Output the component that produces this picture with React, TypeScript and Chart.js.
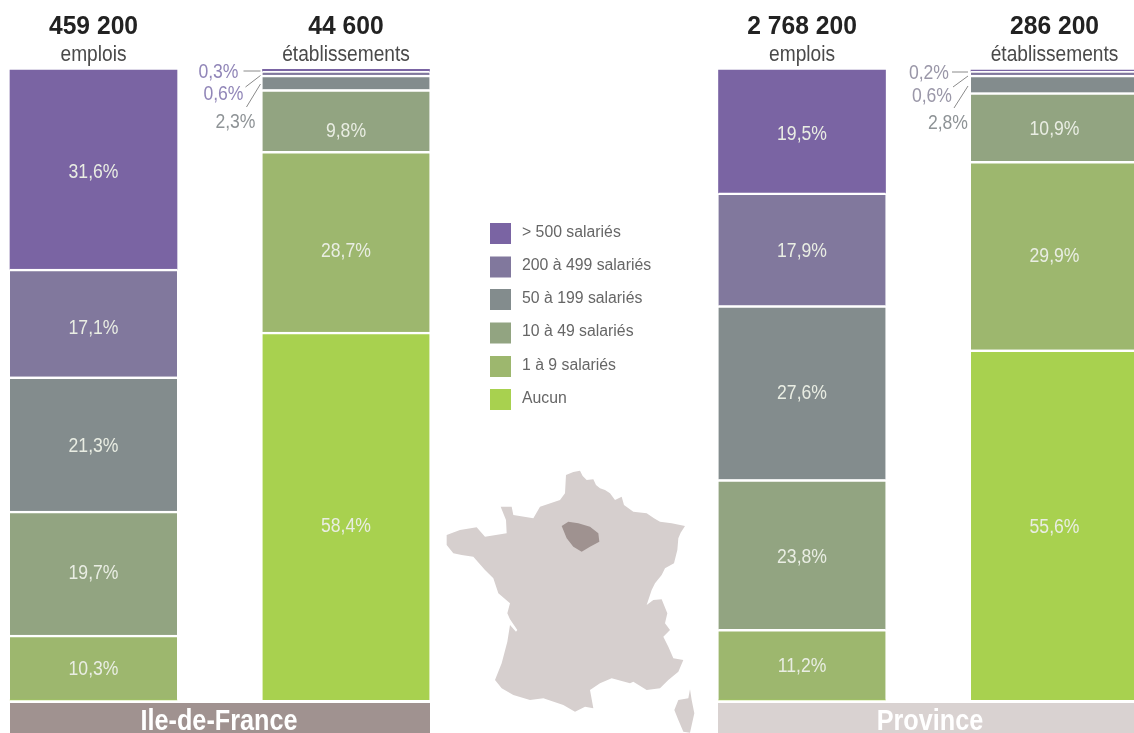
import React, { useEffect, useRef } from "react";
import { Chart, registerables } from "chart.js";

Chart.register(...registerables);

const columnPositions = [0, 1, 2.806, 3.806];
const columnTotals = ["459 200", "44 600", "2 768 200", "286 200"];
const columnUnits = ["emplois", "établissements", "emplois", "établissements"];
const regions = ["Ile-de-France", "Province"];

const seriesLabels = ["Aucun", "1 à 9 salariés", "10 à 49 salariés", "50 à 199 salariés", "200 à 499 salariés", "> 500 salariés"];
const seriesColors = ["#A8D14F", "#9DB76E", "#92A481", "#838C8D", "#81789D", "#7A64A3"];

const aucun = [0, 58.4, 0, 55.6];
const unANeuf = [10.3, 28.7, 11.2, 29.9];
const dixA49 = [19.7, 9.8, 23.8, 10.9];
const cinquanteA199 = [21.3, 2.3, 27.6, 2.8];
const deuxCentsA499 = [17.1, 0.6, 17.9, 0.6];
const plusDe500 = [31.6, 0.3, 19.5, 0.2];
const seriesValues = [aucun, unANeuf, dixA49, cinquanteA199, deuxCentsA499, plusDe500];

// the reference's labels are not exactly centred in their segments
const labelNudges = [
  [0, 9, 0, 2],
  [1, 9, 1, 0],
  [-1, 10, 2, 1],
  [2, 0, 0, 0],
  [5, 0, 1, 0],
  [2, 0, 2, 0],
];

const fmt = (v: number) => v.toFixed(1).replace(".", ",") + "%";
const SANS = '"Liberation Sans", sans-serif';

// no condensed face is installed: squeeze through fillText's maxWidth
const squeezed = (ctx: any, text: string, x: number, y: number, factor: number) => {
  ctx.fillText(text, x, y, ctx.measureText(text).width * factor);
};

// placement of the outside labels for the thin segments, relative to each thin column's left edge
const sideLayout: Record<number, { right: number; y: number; color: string; line: number[] }[]> = {
  1: [
    { right: -24, y: 72, color: "#9186B8", line: [-19, 71, -2, 71] },
    { right: -19, y: 94, color: "#9186B8", line: [-17, 87, -2, 75.5] },
    { right: -7, y: 122, color: "#8E9396", line: [-16, 107, -2, 84] },
  ],
  3: [
    { right: -22, y: 73, color: "#9A97A8", line: [-19, 72, -3, 72] },
    { right: -19, y: 96, color: "#9A97A8", line: [-18, 87, -3, 76] },
    { right: -3, y: 123, color: "#8E9396", line: [-17, 108, -3, 86] },
  ],
};

const overlayPlugin = {
  id: "overlay",
  afterDraw(chart: any) {
    const { ctx } = chart;
    const metas = seriesValues.map((_, i) => chart.getDatasetMeta(i));
    ctx.save();
    ctx.textBaseline = "middle";

    // in-bar labels
    ctx.textAlign = "center";
    ctx.font = `20px ${SANS}`;
    ctx.fillStyle = "#E9EDE3";
    seriesValues.forEach((vals, s) => {
      vals.forEach((v, c) => {
        if (v < 5) return;
        const el = metas[s].data[c];
        squeezed(ctx, fmt(v), el.x, (el.y + el.base) / 2 + 1 + labelNudges[s][c], 0.88);
      });
    });

    // totals and units over each column
    columnTotals.forEach((t, c) => {
      const el = metas[0].data[c];
      ctx.fillStyle = "#222222";
      ctx.font = `bold 26.5px ${SANS}`;
      squeezed(ctx, t, el.x, 27, 0.93);
      ctx.fillStyle = "#4A4A4A";
      ctx.font = `22px ${SANS}`;
      squeezed(ctx, columnUnits[c], el.x, 55, 0.87);
    });

    // outside labels with leader lines
    Object.keys(sideLayout).forEach((key) => {
      const c = Number(key);
      const el = metas[0].data[c];
      const left = el.x - el.width / 2;
      const thin = [plusDe500[c], deuxCentsA499[c], cinquanteA199[c]];
      sideLayout[c].forEach((row, i) => {
        ctx.fillStyle = row.color;
        ctx.font = `20px ${SANS}`;
        ctx.textAlign = "right";
        squeezed(ctx, fmt(thin[i]), left + row.right, row.y, 0.88);
        ctx.strokeStyle = "#8A8A8A";
        ctx.lineWidth = 1;
        ctx.beginPath();
        ctx.moveTo(left + row.line[0], row.line[1]);
        ctx.lineTo(left + row.line[2], row.line[3]);
        ctx.stroke();
      });
    });

    // legend, top row is the last series
    ctx.textAlign = "left";
    ctx.font = `15.8px ${SANS}`;
    const swatchY = [233.5, 267, 299.5, 333, 366.5, 399.5];
    const textY = [233, 266, 299, 332, 366, 399];
    [...seriesLabels].reverse().forEach((label, i) => {
      ctx.fillStyle = [...seriesColors].reverse()[i];
      ctx.fillRect(490, swatchY[i] - 10.5, 21, 21);
      ctx.fillStyle = "#666666";
      ctx.fillText(label, 522, textY[i]);
    });

    // region banners
    const banners = [
      { from: 10, to: 430, color: "#A09290" },
      { from: 718, to: 1134, color: "#D9D2D1" },
    ];
    banners.forEach((b, i) => {
      ctx.fillStyle = b.color;
      ctx.fillRect(b.from, 703, b.to - b.from, 30);
      ctx.fillStyle = "#FFFFFF";
      ctx.textAlign = "center";
      ctx.font = `bold 29px ${SANS}`;
      squeezed(ctx, regions[i], (b.from + b.to) / 2 + (i === 1 ? 4 : -1), 722, 0.87);
    });
    ctx.restore();
  },
};

const FRANCE =
  "M408,75 L430,66 L450,62 L458,78 L470,90 L490,88 L498,105 L510,115 L525,120 L540,130 L555,150 L575,140 L582,165 L610,185 L650,190 L672,205 L690,215 L725,220 L765,228 L752,248 L745,265 L742,300 L732,340 L705,355 L695,375 L675,400 L665,420 L650,465 L670,450 L695,448 L712,490 L705,520 L720,540 L700,560 L715,590 L730,625 L760,630 L745,665 L715,690 L690,715 L650,720 L610,695 L600,700 L545,685 L510,700 L480,720 L490,775 L465,770 L435,785 L400,765 L340,745 L300,750 L250,735 L215,715 L195,690 L215,640 L232,575 L240,525 L258,545 L262,540 L240,508 L232,490 L240,460 L205,430 L190,385 L165,360 L130,320 L95,315 L70,310 L50,285 L50,255 L90,240 L140,232 L165,260 L230,250 L228,210 L212,170 L245,170 L250,195 L310,205 L330,170 L390,150 L405,130 Z";
const CORSICA = "M780,718 L785,750 L793,790 L780,848 L760,845 L745,810 L733,780 L745,750 L775,745 Z";
const IDF = "M395,228 L415,215 L445,220 L480,230 L505,250 L508,275 L480,290 L455,305 L430,290 L410,265 Z";

export default function App() {
  const ref = useRef<HTMLCanvasElement>(null);
  useEffect(() => {
    const chart = new Chart(ref.current as HTMLCanvasElement, {
      type: "bar",
      data: {
        datasets: seriesValues.map((vals, i) => ({
          label: seriesLabels[i],
          data: vals.map((v, c) => ({ x: columnPositions[c], y: v })),
          backgroundColor: seriesColors[i],
          borderColor: "#FFFFFF",
          borderWidth: { top: i === seriesValues.length - 1 ? 0 : 2.5, right: 0, bottom: 0, left: 0 },
          borderSkipped: false,
          barThickness: 167,
          clip: false,
        })),
      } as any,
      plugins: [overlayPlugin],
      options: {
        animation: false,
        responsive: false,
        events: [],
        layout: { padding: { top: 70, bottom: 33, left: 0, right: 0 } },
        plugins: { legend: { display: false }, tooltip: { enabled: false } },
        scales: {
          x: { type: "linear", offset: false, stacked: true, display: false, min: -0.3703, max: 4.1208 },
          y: { stacked: true, display: false, min: 0, max: 100 },
        },
      },
    } as any);
    return () => chart.destroy();
  }, []);
  return (
    <div style={{ position: "absolute", left: 0, top: 0, width: 1134, height: 733, overflow: "hidden", background: "#fff" }}>
      <canvas ref={ref} width={1134} height={733} style={{ display: "block" }} />
      <svg viewBox="0 0 840 849" width={280} height={283} style={{ position: "absolute", left: 430, top: 450 }}>
        <path d={FRANCE} fill="#D6CFCE" />
        <path d={CORSICA} fill="#D6CFCE" />
        <path d={IDF} fill="#9F9290" />
      </svg>
    </div>
  );
}
